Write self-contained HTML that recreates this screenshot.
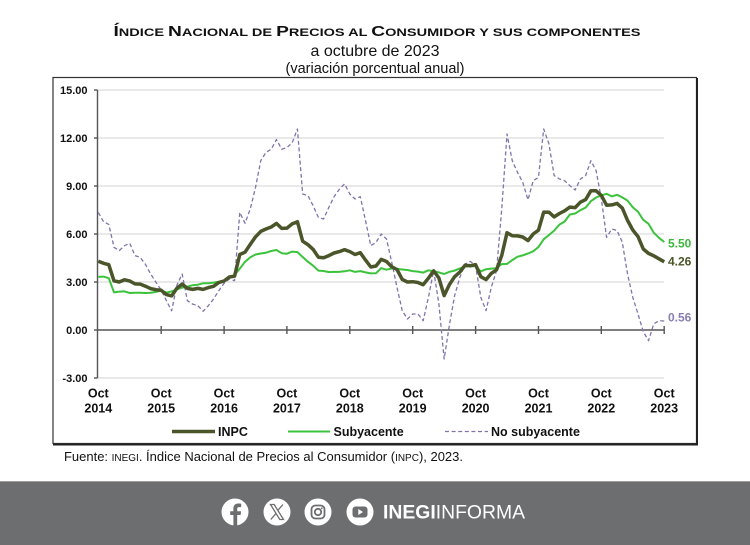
<!DOCTYPE html>
<html>
<head>
<meta charset="utf-8">
<style>
html,body{margin:0;padding:0;background:#fff;}
body{width:750px;height:545px;overflow:hidden;}
svg{display:block;font-family:"Liberation Sans",Arial,sans-serif;}
</style>
</head>
<body>
<svg width="750" height="545" viewBox="0 0 750 545" xmlns="http://www.w3.org/2000/svg">
<rect x="0" y="0" width="750" height="545" fill="#fff"/>

<!-- Title -->
<text x="113.5" y="36" font-weight="bold" fill="#111" textLength="527" lengthAdjust="spacingAndGlyphs"><tspan font-size="14.5">Í</tspan><tspan font-size="11">NDICE </tspan><tspan font-size="14.5">N</tspan><tspan font-size="11">ACIONAL DE </tspan><tspan font-size="14.5">P</tspan><tspan font-size="11">RECIOS AL </tspan><tspan font-size="14.5">C</tspan><tspan font-size="11">ONSUMIDOR Y SUS COMPONENTES</tspan></text>
<text x="375" y="56" font-size="16" text-anchor="middle" fill="#111">a octubre de 2023</text>
<text x="375" y="73" font-size="14.5" text-anchor="middle" fill="#111">(variación porcentual anual)</text>

<!-- Chart box -->
<rect x="53" y="77.5" width="643.5" height="366" fill="#fff" stroke="#333" stroke-width="1.2"/>
<line x1="697" y1="78" x2="697" y2="445" stroke="#222" stroke-width="2"/>
<line x1="53" y1="444.5" x2="698" y2="444.5" stroke="#222" stroke-width="2"/>

<!-- gridlines -->
<g stroke="#e2e2e2" stroke-width="1.5">
<line x1="98" y1="90" x2="664" y2="90"/>
<line x1="98" y1="138" x2="664" y2="138"/>
<line x1="98" y1="186" x2="664" y2="186"/>
<line x1="98" y1="234" x2="664" y2="234"/>
<line x1="98" y1="282" x2="664" y2="282"/>
<line x1="98" y1="378" x2="664" y2="378"/>
</g>

<!-- y axis -->
<g stroke="#555" stroke-width="1.4">
<line x1="97.5" y1="90" x2="97.5" y2="378"/>
<line x1="94" y1="90" x2="97.5" y2="90"/>
<line x1="94" y1="138" x2="97.5" y2="138"/>
<line x1="94" y1="186" x2="97.5" y2="186"/>
<line x1="94" y1="234" x2="97.5" y2="234"/>
<line x1="94" y1="282" x2="97.5" y2="282"/>
<line x1="94" y1="330" x2="97.5" y2="330"/>
<line x1="94" y1="378" x2="97.5" y2="378"/>
<!-- zero line -->
<line x1="97.5" y1="330" x2="664.2" y2="330" stroke-width="1.6"/>
<line x1="161.2" y1="326" x2="161.2" y2="334"/>
<line x1="224.1" y1="326" x2="224.1" y2="334"/>
<line x1="286.9" y1="326" x2="286.9" y2="334"/>
<line x1="349.8" y1="326" x2="349.8" y2="334"/>
<line x1="412.7" y1="326" x2="412.7" y2="334"/>
<line x1="475.6" y1="326" x2="475.6" y2="334"/>
<line x1="538.5" y1="326" x2="538.5" y2="334"/>
<line x1="601.3" y1="326" x2="601.3" y2="334"/>
<line x1="664.2" y1="326" x2="664.2" y2="334"/>
</g>

<!-- y labels -->
<g font-size="11" font-weight="bold" fill="#111" text-anchor="end">
<text x="87.5" y="94">15.00</text>
<text x="87.5" y="142">12.00</text>
<text x="87.5" y="190">9.00</text>
<text x="87.5" y="238">6.00</text>
<text x="87.5" y="286">3.00</text>
<text x="87.5" y="334">0.00</text>
<text x="87.5" y="382">-3.00</text>
</g>

<!-- x labels -->
<g font-size="12.5" font-weight="bold" fill="#111" text-anchor="middle">
<text x="98.3" y="397.5">Oct</text><text x="98.3" y="412.5">2014</text>
<text x="161.2" y="397.5">Oct</text><text x="161.2" y="412.5">2015</text>
<text x="224.1" y="397.5">Oct</text><text x="224.1" y="412.5">2016</text>
<text x="286.9" y="397.5">Oct</text><text x="286.9" y="412.5">2017</text>
<text x="349.8" y="397.5">Oct</text><text x="349.8" y="412.5">2018</text>
<text x="412.7" y="397.5">Oct</text><text x="412.7" y="412.5">2019</text>
<text x="475.6" y="397.5">Oct</text><text x="475.6" y="412.5">2020</text>
<text x="538.5" y="397.5">Oct</text><text x="538.5" y="412.5">2021</text>
<text x="601.3" y="397.5">Oct</text><text x="601.3" y="412.5">2022</text>
<text x="664.2" y="397.5">Oct</text><text x="664.2" y="412.5">2023</text>
</g>

<!-- No subyacente -->
<polyline fill="none" stroke="#8273aa" stroke-width="1.3" stroke-dasharray="4 2.6" stroke-linejoin="round"
points="98.3,212.4 103.54,221.7 108.78,224.4 114.02,247.3 119.26,250.6 124.5,245.7 129.74,243.3 134.98,255.6 140.22,257.4 145.46,264.4 150.7,274 155.94,282.3 161.18,290 166.42,300.7 171.66,310.8 176.9,285.2 182.14,274 187.38,300.7 192.62,304.1 197.86,305.7 203.1,311.3 208.34,305.7 213.58,299 218.82,290.6 224.06,283.3 229.3,279 234.54,280.7 239.78,212.4 245.02,223.3 250.26,209 255.5,187.6 260.74,160.7 265.98,152.4 271.22,149.2 276.46,139.6 281.7,149.2 286.94,147.6 292.18,142.8 297.42,129 302.66,194 307.9,195.6 313.14,205.7 318.38,217.4 323.62,219 328.86,207.3 334.1,196.7 339.34,189.2 344.58,183.9 349.82,194 355.06,199 360.3,196.7 365.54,220.7 370.78,245.7 376.02,242.3 381.26,234 386.5,239 391.74,262.3 396.98,287.3 402.22,310.6 407.46,319 412.7,314 417.94,314 423.18,320.7 428.42,297.4 433.66,270.6 438.9,304.1 444.14,359 449.38,325.2 454.62,295.6 459.86,277.4 465.1,263.9 470.34,261.4 475.58,265.7 480.82,297.4 486.06,310.6 491.3,287.3 496.54,270.6 501.78,208.4 507.02,134 512.26,160.7 517.5,172.4 522.74,182.3 527.98,199.9 533.22,180.7 538.46,177.4 543.7,129 548.94,143.9 554.18,175.6 559.42,179 564.66,180.7 569.9,185.7 575.14,190 580.38,179 585.62,175.6 590.86,160.7 596.1,170.6 601.34,198.8 606.58,237.4 611.82,229 617.06,230.6 622.3,242.3 627.54,274 632.78,297.4 638.02,314 643.26,331.6 648.5,340.7 653.74,323.9 658.98,320.7 664.22,321"/>

<!-- Subyacente -->
<polyline fill="none" stroke="#3cc33c" stroke-width="2" stroke-linejoin="round"
points="98.3,276.9 103.54,276.6 108.78,278.2 114.02,292.4 119.26,291.6 124.5,291.4 129.74,293 134.98,292.7 140.22,292.7 145.46,293 150.7,292.7 155.94,291.9 161.18,290.5 166.42,292.6 171.66,291.4 176.9,289.4 182.14,287.6 187.38,286.6 192.62,285.2 197.86,284.7 203.1,283.3 208.34,283.3 213.58,282.6 218.82,281.7 224.06,280.4 229.3,277.4 234.54,275 239.78,268.6 245.02,261.8 250.26,257.4 255.5,254.5 260.74,253.5 265.98,252.7 271.22,251 276.46,250 281.7,253.2 286.94,253.7 292.18,251.6 297.42,252.1 302.66,257 307.9,261.7 313.14,265.7 318.38,270.6 323.62,271 328.86,272.1 334.1,271.9 339.34,271.9 344.58,271.3 349.82,270.3 355.06,271.9 360.3,271.1 365.54,272.4 370.78,273.4 376.02,273.2 381.26,268.1 386.5,269.7 391.74,268.4 396.98,268.9 402.22,269.5 407.46,270 412.7,271.1 417.94,271.6 423.18,272.6 428.42,270.3 433.66,271.4 438.9,272.4 444.14,274 449.38,271.8 454.62,270.6 459.86,268.4 465.1,266.5 470.34,266.2 475.58,266.3 480.82,271.4 486.06,269.2 491.3,268.6 496.54,268.1 501.78,264.1 507.02,263.9 512.26,260.1 517.5,256.7 522.74,255.4 527.98,253.5 533.22,251.3 538.46,247 543.7,239.3 548.94,235 554.18,230.6 559.42,224.6 564.66,221.5 569.9,214.5 575.14,213.5 580.38,210.2 585.62,207.6 590.86,201.2 596.1,197.5 601.34,195.3 606.58,193.8 611.82,196.4 617.06,194.8 622.3,197.4 627.54,200.6 632.78,207.3 638.02,211.8 643.26,219.8 648.5,223.8 653.74,232.7 658.98,237.8 664.22,242"/>

<!-- INPC -->
<polyline fill="none" stroke="#4b552a" stroke-width="3.5" stroke-linejoin="round"
points="98.3,261.2 103.54,263.3 108.78,264.7 114.02,280.9 119.26,282 124.5,279.8 129.74,281 134.98,283.9 140.22,284.1 145.46,286.2 150.7,288.6 155.94,289.7 161.18,290.3 166.42,294.6 171.66,295.9 176.9,288.2 182.14,284.1 187.38,288.4 192.62,289.4 197.86,288.4 203.1,289.4 208.34,287.6 213.58,286.3 218.82,282.5 224.06,281 229.3,277 234.54,276.2 239.78,254.5 245.02,252.2 250.26,244.4 255.5,236.9 260.74,231.4 265.98,229 271.22,227 276.46,223.4 281.7,228.4 286.94,228.1 292.18,223.9 297.42,221.7 302.66,241.2 307.9,244.6 313.14,249.4 318.38,257.2 323.62,257.8 328.86,255.6 334.1,253 339.34,251.6 344.58,249.7 349.82,251.6 355.06,254.5 360.3,252.7 365.54,260.1 370.78,267 376.02,266 381.26,259.4 386.5,261.5 391.74,266.8 396.98,269.5 402.22,279.4 407.46,282 412.7,281.7 417.94,282.5 423.18,284.7 428.42,278.2 433.66,270.8 438.9,278 444.14,295.6 449.38,284.6 454.62,276.7 459.86,272.1 465.1,265.2 470.34,265.8 475.58,264.6 480.82,276.7 486.06,279.6 491.3,273.4 496.54,269.8 501.78,255.3 507.02,232.7 512.26,235.8 517.5,235.9 522.74,237 527.98,240.6 533.22,234 538.46,230.2 543.7,212.1 548.94,212.2 554.18,216.9 559.42,213.5 564.66,210.8 569.9,207.1 575.14,207.6 580.38,202.2 585.62,199.6 590.86,190.8 596.1,190.8 601.34,195.4 606.58,205.2 611.82,204.9 617.06,203.4 622.3,208.1 627.54,220.4 632.78,230 638.02,236.6 643.26,249 648.5,253.4 653.74,255.8 658.98,258.8 664.22,261.8"/>

<!-- end labels -->
<g font-size="12" font-weight="bold">
<text x="668" y="247.5" fill="#3db83d">5.50</text>
<text x="668" y="265.5" fill="#4b552a">4.26</text>
<text x="668" y="321.5" fill="#8a7db5">0.56</text>
</g>

<!-- legend -->
<line x1="172" y1="431.5" x2="215" y2="431.5" stroke="#4b552a" stroke-width="3.5"/>
<line x1="288" y1="431.5" x2="330" y2="431.5" stroke="#3cc33c" stroke-width="2"/>
<line x1="445" y1="431.5" x2="488" y2="431.5" stroke="#8273aa" stroke-width="1.3" stroke-dasharray="4 2.6"/>
<g font-size="12.5" font-weight="bold" fill="#111">
<text x="218" y="436">INPC</text>
<text x="333.5" y="436">Subyacente</text>
<text x="491" y="436">No subyacente</text>
</g>

<!-- source -->
<text x="64" y="461" font-size="13" fill="#111" textLength="399" lengthAdjust="spacingAndGlyphs">Fuente: <tspan font-size="10">INEGI</tspan>. Índice Nacional de Precios al Consumidor (<tspan font-size="10">INPC</tspan>), 2023.</text>

<!-- footer band -->
<rect x="0" y="481.5" width="750" height="63.5" fill="#6d6e70"/>
<line x1="0" y1="481.5" x2="750" y2="481.5" stroke="#9c9c9c" stroke-width="1"/>

<!-- facebook -->
<circle cx="235" cy="512" r="13.5" fill="#fff"/>
<path d="M237.2,526 L237.2,515 L240.6,515 L241.1,511.2 L237.2,511.2 L237.2,508.9 C237.2,507.8 237.6,507.1 239.1,507.1 L241.2,507.1 L241.2,503.7 C240.6,503.6 239.5,503.5 238.3,503.5 C235.6,503.5 233.4,505.1 233.4,508.3 L233.4,511.2 L230.2,511.2 L230.2,515 L233.4,515 L233.4,525.8 Z" fill="#6d6e70"/>

<!-- X -->
<circle cx="277" cy="512" r="13.5" fill="#fff"/>
<g stroke="#6d6e70" stroke-width="1.3" fill="none">
<path d="M270.5,504.5 L274.2,504.5 L283.5,519.5 L279.8,519.5 Z"/>
<line x1="283" y1="504.5" x2="277.6" y2="510.6"/>
<line x1="276" y1="513.4" x2="270.8" y2="519.5"/>
</g>

<!-- instagram -->
<circle cx="318" cy="512" r="13.5" fill="#fff"/>
<rect x="311.5" y="505.5" width="13" height="13" rx="3.8" fill="none" stroke="#6d6e70" stroke-width="1.8"/>
<circle cx="318" cy="512" r="3.2" fill="none" stroke="#6d6e70" stroke-width="1.8"/>
<circle cx="321.8" cy="508.3" r="0.9" fill="#6d6e70"/>

<!-- youtube -->
<circle cx="360" cy="512" r="13.5" fill="#fff"/>
<rect x="352.5" y="506.5" width="15" height="11" rx="3" fill="#6d6e70"/>
<path d="M358.3,509 L358.3,515 L363,512 Z" fill="#fff"/>

<text x="383" y="518.5" font-size="19" fill="#fff" textLength="142" lengthAdjust="spacingAndGlyphs"><tspan font-weight="bold">INEGI</tspan>INFORMA</text>
</svg>
</body>
</html>
